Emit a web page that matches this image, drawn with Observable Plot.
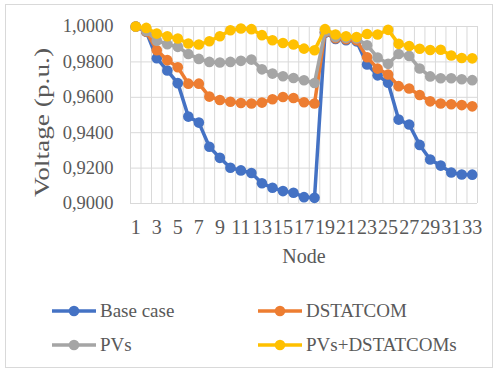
<!DOCTYPE html>
<html>
<head>
<meta charset="utf-8">
<script src="https://cdn.jsdelivr.net/npm/d3@7"></script>
<script src="https://cdn.jsdelivr.net/npm/@observablehq/plot@0.6"></script>
<style>
  html, body { margin: 0; padding: 0; background: #ffffff; }
  #wrap { position: relative; width: 496px; height: 371px; overflow: hidden; font-family: 'Liberation Serif', 'Times New Roman', serif; }
  #border { position: absolute; left: 5px; top: 4px; width: 488px; height: 364px; border: 1px solid #d9d9d9; box-sizing: border-box; }
  #chart { position: absolute; left: 0; top: 0; }
  #legend { position: absolute; left: 52px; top: 294px; display: grid; grid-template-columns: 206px auto; grid-auto-rows: 34px; color: #595959; font-size: 19px; font-family: 'Liberation Serif', 'Times New Roman', serif; }
  .item { display: flex; align-items: center; white-space: nowrap; }
  .item svg { margin-right: 4px; }
  #chart svg text { font-family: 'Liberation Serif', 'Times New Roman', serif; }
</style>
</head>
<body>
<div id="wrap">
  <div id="border"></div>
  <div id="chart"></div>
  <div id="legend"></div>
</div>
<script>
// ---- data ----
const nodes = [1,2,3,4,5,6,7,8,9,10,11,12,13,14,15,16,17,18,19,20,21,22,23,24,25,26,27,28,29,30,31,32,33];
const xTickLabels = [1,3,5,7,9,11,13,15,17,19,21,23,25,27,29,31,33];
const yTicks = [0.90, 0.92, 0.94, 0.96, 0.98, 1.00];
const seriesNames = ["Base case", "DSTATCOM", "PVs", "PVs+DSTATCOMs"];
const seriesColors = ["#4472C4", "#ED7D31", "#A5A5A5", "#FFC000"];

const baseCase = [1.0000, 0.9970, 0.9821, 0.9751, 0.9680, 0.9491, 0.9457, 0.9321, 0.9258, 0.9202, 0.9187,
                  0.9172, 0.9114, 0.9089, 0.9070, 0.9061, 0.9036, 0.9032, 0.9965, 0.9929, 0.9922, 0.9916,
                  0.9786, 0.9724, 0.9682, 0.9474, 0.9446, 0.9331, 0.9249, 0.9214, 0.9175, 0.9164, 0.9163];
const dstatcom = [1.0000, 0.9972, 0.9866, 0.9810, 0.9770, 0.9677, 0.9677, 0.9604, 0.9585, 0.9575, 0.9568,
                  0.9565, 0.9570, 0.9589, 0.9602, 0.9596, 0.9572, 0.9565, 0.9968, 0.9934, 0.9928, 0.9922,
                  0.9826, 0.9762, 0.9729, 0.9663, 0.9650, 0.9613, 0.9577, 0.9565, 0.9561, 0.9556, 0.9549];
const pvs      = [1.0000, 0.9975, 0.9920, 0.9900, 0.9885, 0.9845, 0.9817, 0.9800, 0.9797, 0.9800, 0.9806,
                  0.9813, 0.9758, 0.9734, 0.9719, 0.9709, 0.9696, 0.9681, 0.9972, 0.9940, 0.9936, 0.9933,
                  0.9894, 0.9825, 0.9789, 0.9845, 0.9834, 0.9763, 0.9718, 0.9708, 0.9708, 0.9702, 0.9697];
const pvsDstatcoms = [1.0000, 0.9992, 0.9960, 0.9945, 0.9932, 0.9904, 0.9898, 0.9917, 0.9945, 0.9979, 0.9989,
                  0.9985, 0.9951, 0.9922, 0.9907, 0.9898, 0.9875, 0.9866, 0.9985, 0.9955, 0.9945, 0.9941,
                  0.9958, 0.9955, 0.9981, 0.9902, 0.9890, 0.9874, 0.9867, 0.9869, 0.9836, 0.9822, 0.9820];
const seriesValues = [baseCase, dstatcom, pvs, pvsDstatcoms];

const xTitle = "Node";
const yTitle = "Voltage (p.u.)";

// ---- build ----
const W = 496, H = 275;
const FONT = "'Liberation Serif', 'Times New Roman', serif";
const boundaries = nodes.map(n => n - 0.5).concat([nodes[nodes.length - 1] + 0.5]);
const seriesMarks = [];
seriesValues.forEach((vals, i) => {
  const rows = nodes.map((n, j) => ({node: n, v: vals[j], series: seriesNames[i]}));
  seriesMarks.push(Plot.line(rows, {x: "node", y: "v", stroke: seriesColors[i], strokeWidth: 3.5}));
  seriesMarks.push(Plot.dot(rows, {x: "node", y: "v", r: 5.3, fill: seriesColors[i], stroke: "none"}));
});

const fmt = d => d.toFixed(4).replace(".", ",");

const chart = Plot.plot({
  width: W,
  height: H,
  marginLeft: 130,
  marginRight: 19,
  marginTop: 26,
  marginBottom: H - 203,
  style: {fontFamily: FONT, background: "transparent", color: "#595959", overflow: "visible"},
  x: {domain: [0.5, 33.5]},
  y: {domain: [0.9, 1.0]},
  marks: [
    Plot.ruleX(boundaries, {stroke: "#d9d9d9", strokeWidth: 1}),
    Plot.ruleY(yTicks, {stroke: "#d9d9d9", strokeWidth: 1}),
    Plot.axisX({ticks: xTickLabels, tickFormat: d => String(d), tickSize: 0, tickPadding: 16, fontSize: 20, label: null}),
    Plot.axisY({ticks: yTicks, tickFormat: fmt, tickSize: 0, tickPadding: 17, fontSize: 18.5, label: null}),
    ...seriesMarks
  ]
});
document.getElementById("chart").appendChild(chart);

// axis titles
const svg = d3.select(chart);
svg.append("text")
  .attr("x", 304).attr("y", 263)
  .attr("text-anchor", "middle")
  .attr("fill", "#595959")
  .style("font-size", "20px")
  .text(xTitle);
svg.append("text")
  .attr("transform", "translate(48.5,122.5) rotate(-90)")
  .attr("text-anchor", "middle")
  .attr("fill", "#595959")
  .attr("textLength", 149)
  .attr("lengthAdjust", "spacingAndGlyphs")
  .style("font-size", "20px")
  .text(yTitle);

// legend
const legend = d3.select("#legend");
seriesNames.forEach((name, i) => {
  const item = legend.append("div").attr("class", "item");
  const s = item.append("svg").attr("width", 44).attr("height", 12);
  s.append("line").attr("x1", 0).attr("x2", 44).attr("y1", 6).attr("y2", 6)
    .attr("stroke", seriesColors[i]).attr("stroke-width", 3.5);
  s.append("circle").attr("cx", 22).attr("cy", 6).attr("r", 5.3).attr("fill", seriesColors[i]);
  item.append("span").text(name);
});
</script>
</body>
</html>
